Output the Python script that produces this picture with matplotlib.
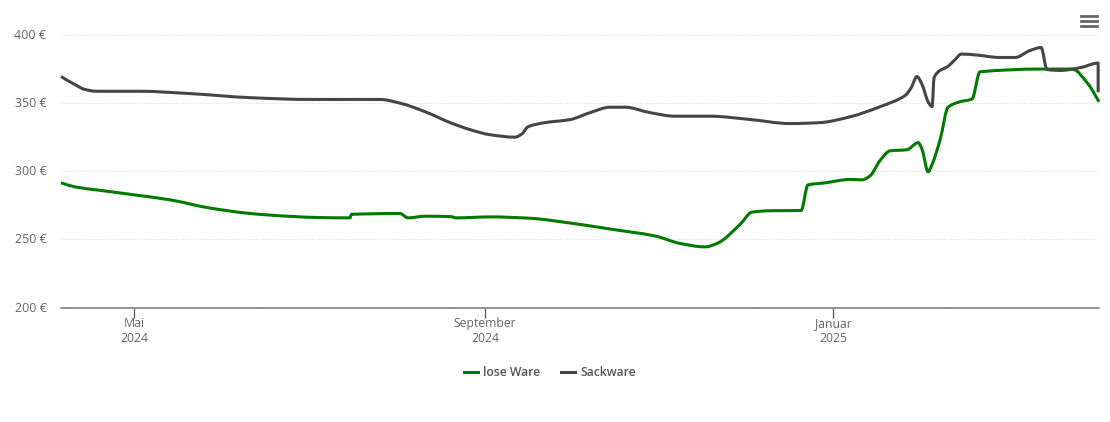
import matplotlib
matplotlib.use("Agg")
import matplotlib.pyplot as plt
import matplotlib.transforms as mtrans
from matplotlib.lines import Line2D
from matplotlib.patches import PathPatch
from matplotlib.path import Path

plt.rcParams["font.family"] = ["Open Sans", "DejaVu Sans"]

# days since 1 May 2024
lose_days = [-25.6, -20.7, -11.9, 0, 12.6, 26.6, 40.7, 54.7, 65.2, 75.7, 76.2, 93.2, 96, 102, 111.1, 112.9,
             124.8, 138.8, 152.8, 166.8, 182.6, 191.4, 200.1, 204.7, 212.4, 216.6, 222.9, 233.8, 236.2, 242.2,
             251, 255.2, 258, 261.5, 265, 270.9, 274.8, 276.2, 278.3, 279.7, 282.5, 285.3, 289.5, 293.7, 296.5,
             317.6, 328.8, 334.4, 338.2]
lose_price = [291.5, 288.5, 286, 282.7, 279, 273, 269, 266.9, 266, 265.8, 268.4, 269, 265.8, 267, 266.7, 265.8,
              266.5, 265.5, 262, 257.6, 252.5, 247, 244.5, 247.4, 261, 270, 271, 271.2, 290, 291.5,
              294, 293.7, 296.7, 308, 315, 315.8, 321, 316, 299.6, 305, 323, 347, 351, 353, 373,
              375, 375, 364, 351]

sack_days = [-25.6, -20.7, -17.2, -13, 2.1, 19.6, 40.7, 61.7, 86.2, 93.2, 102, 110.8, 117.8, 124.8, 133.5, 136,
             138.1, 144.1, 152.8, 159.8, 166.8, 172.1, 180.9, 189.6, 201.9, 215.9, 229.9, 240.4, 251, 261.5,
             270.2, 272.3, 274.4, 276.2, 278.3, 279.7, 280.4, 282.5, 285, 287.8, 289.9, 294.8, 303.5, 308.8,
             314, 317.9, 320, 324.6, 331.6, 337.9, 337.9]
sack_price = [369.5, 363.6, 360, 358.7, 358.7, 357, 354, 352.7, 352.7, 350, 343.7, 335.7, 330.5, 326.8, 325, 327.5,
              332.7, 335.7, 337.9, 343, 347, 347, 343, 340.4, 340.4, 338, 335, 335.7, 340, 347.4,
              355.5, 361, 369.5, 363.6, 351, 347.4, 368.7, 374, 376.6, 382, 386, 385.4, 383.5, 383.5,
              388.6, 390.8, 374.6, 374, 376, 379.4, 358]

y_ticks = [200, 250, 300, 350, 400]
x_ticks = [0, 123, 245]
x_labels = ["Mai\n2024", "September\n2024", "Januar\n2025"]

GREEN = "#007a00"
DARK = "#454545"


def spline_path(xs, ys):
    # bezier through the read points, flat at local peaks like the site's spline line
    n = len(xs)
    slopes = []
    for i in range(n):
        if i == 0:
            slopes.append((ys[1] - ys[0]) / (xs[1] - xs[0]))
            continue
        if i == n - 1:
            d = xs[i] - xs[i - 1]
            slopes.append((ys[i] - ys[i - 1]) / d if d > 0 else 0.0)
            continue
        d0 = xs[i] - xs[i - 1]
        d1 = xs[i + 1] - xs[i]
        if d0 <= 0 or d1 <= 0:
            slopes.append(0.0)
            continue
        s0 = (ys[i] - ys[i - 1]) / d0
        s1 = (ys[i + 1] - ys[i]) / d1
        if s0 * s1 <= 0:
            slopes.append(0.0)
        else:
            slopes.append(2 * s0 * s1 / (s0 + s1))
    verts = [(xs[0], ys[0])]
    codes = [Path.MOVETO]
    for i in range(n - 1):
        h = (xs[i + 1] - xs[i]) / 3
        verts += [(xs[i] + h, ys[i] + slopes[i] * h),
                  (xs[i + 1] - h, ys[i + 1] - slopes[i + 1] * h),
                  (xs[i + 1], ys[i + 1])]
        codes += [Path.CURVE4] * 3
    return Path(verts, codes)


W, H = 1110, 422
fig = plt.figure(figsize=(W / 100, H / 100), dpi=100)
ax = fig.add_axes([61 / W, (H - 307.5) / H, (1099 - 61) / W, (307.5 - 35) / H])

ax.add_patch(PathPatch(spline_path(lose_days, lose_price), fill=False, edgecolor=GREEN, lw=2.2,
                       joinstyle="round", clip_on=False, zorder=3))
ax.add_patch(PathPatch(spline_path(sack_days, sack_price), fill=False, edgecolor=DARK, lw=2.2,
                       joinstyle="round", clip_on=False, zorder=4))

ax.set_xlim(-25.6, 338.2)
ax.set_ylim(200, 400)
ax.set_yticks(y_ticks)
ax.set_yticklabels([f"{v} €" for v in y_ticks])
ax.set_xticks(x_ticks)
ax.set_xticklabels(x_labels, linespacing=1.2)
ax.tick_params(axis="y", length=0, pad=10.5, labelsize=9, labelcolor="#666666")
ax.tick_params(axis="x", length=7, width=0.9, color="#555555", pad=0, labelsize=8.8, labelcolor="#666666")
ax.grid(axis="y", color="#dddddd", lw=0.7, ls=(0, (1, 1.5)))
ax.set_axisbelow(True)
for s in ["top", "left", "right"]:
    ax.spines[s].set_visible(False)
ax.spines["bottom"].set_color("#777777")
ax.spines["bottom"].set_linewidth(1.1)

up_1px = mtrans.ScaledTranslation(0, 1 / 100, fig.dpi_scale_trans)
for lab in ax.get_yticklabels():
    lab.set_transform(lab.get_transform() + up_1px)

fig.legend(handles=[Line2D([], [], color=GREEN, lw=2.2, label="lose Ware"),
                    Line2D([], [], color=DARK, lw=2.2, label="Sackware")],
           loc="center", bbox_to_anchor=(550 / W, (H - 372.5) / H), ncol=2, frameon=False,
           handlelength=1.15, handletextpad=0.45, columnspacing=1.72,
           prop={"size": 8.7, "weight": "semibold"}, labelcolor="#555555")

# menu icon
for py in (16, 21, 26):
    fig.add_artist(Line2D([1080.5 / W, 1096.5 / W], [(H - py) / H] * 2, color="#666666", lw=2.0))

fig.savefig("out.png", dpi=100)
